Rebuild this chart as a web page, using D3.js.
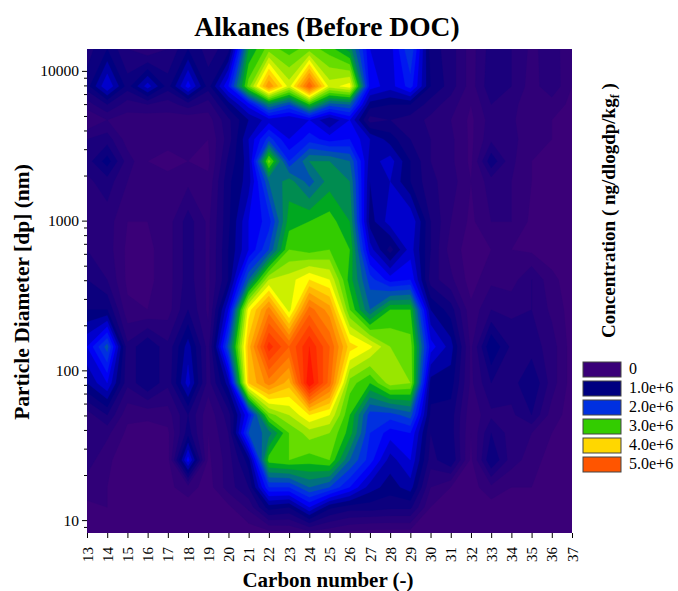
<!DOCTYPE html>
<html>
<head>
<meta charset="utf-8">
<script src="https://cdn.jsdelivr.net/npm/d3@7"></script>
<style>
  body { margin: 0; background: #fff; }
  text { font-family: "Liberation Serif", serif; fill: #000; }
</style>
</head>
<body>
<script>
const width = 678;
const height = 591;

// carbon numbers and particle size rows (nm), values in 1e6 ng/dlogdp/kgf
const carbons = d3.range(13, 38);
const diameters = [14000, 7900, 5970, 4700, 3500, 2490, 1825, 985, 640, 403, 254, 144, 82.3, 50.4, 38.2, 25.2, 16.6, 12.2, 8.2];
const conc = [
  [.7,1.0,.6,.4,.6,1.0,.7,.9,2.8,3.3,3.1,3.3,3.1,2.7,1.6,1.5,2.2,.9,.7,.3,.7,.6,.35,.5,.25],
  [.9,1.6,.9,1.5,.9,1.7,.9,1.8,3.3,4.6,3.7,5.0,3.7,3.9,1.7,1.5,1.9,1.0,.7,.3,.75,.6,.3,.55,.2],
  [.5,.8,.5,.6,.5,.7,.5,1.1,1.7,2.6,2.2,3.0,2.3,2.4,1.1,1.0,1.0,.7,.5,.2,.6,.5,.2,.3,.15],
  [.2,.4,.3,.25,.3,.25,.3,.75,1.2,1.5,1.4,1.6,1.2,1.6,.7,.8,.7,.55,.4,.15,.5,.45,.2,.2,.15],
  [.6,.7,.3,.2,.25,.2,.2,.7,1.4,2.1,1.6,1.9,1.7,1.8,1.4,1.1,.8,.6,.45,.15,.55,.5,.2,.2,.15],
  [.7,1.1,.5,.2,.15,.2,.15,.85,1.3,3.3,2.0,2.6,2.6,2.4,1.3,1.5,1.0,.6,.45,.15,.95,.45,.2,.15,.1],
  [.55,.7,.4,.2,.25,.35,.25,.95,1.3,2.4,2.7,2.3,2.7,2.6,1.2,1.4,1.0,.65,.5,.2,.5,.4,.2,.15,.1],
  [.55,.5,.2,.2,.3,.7,.35,.95,1.6,1.9,2.9,3.0,3.1,2.8,1.1,1.5,1.6,.8,.4,.15,.4,.4,.15,.1,.1],
  [.6,.5,.15,.15,.3,.7,.35,1.0,1.6,2.2,3.2,3.1,3.2,3.0,1.5,.9,1.5,.8,.3,.1,.2,.2,.15,.1,.1],
  [.8,.6,.15,.15,.3,.7,.35,1.0,2.4,3.6,3.7,4.0,3.8,2.9,2.1,1.7,1.8,.7,.45,.1,.35,.3,.6,.25,.1],
  [1.0,1.0,.25,.2,.3,.8,.35,1.6,3.9,4.7,3.7,4.9,4.5,3.2,2.4,3.0,3.0,1.2,.9,.25,.6,.55,.6,.35,.1],
  [1.6,2.3,.65,1.0,.65,1.3,.5,2.3,4.3,5.5,5.0,5.6,5.0,4.1,3.85,3.4,3.3,1.7,1.3,.35,1.2,.75,.7,.5,.1],
  [1.2,1.6,.65,1.0,.65,1.5,.5,1.3,4.2,4.7,4.3,5.8,4.9,3.3,3.0,3.5,3.4,1.1,1.1,.35,.8,.7,1.0,.5,.1],
  [.5,.8,.25,.25,.3,.8,.25,.7,1.8,3.3,3.6,4.0,3.8,3.0,2.1,2.1,2.3,.95,.9,.25,.55,.55,.8,.3,.1],
  [.5,.45,.15,.1,.15,.9,.2,.6,2.2,2.5,3.2,3.5,3.4,2.9,2.0,1.7,1.8,.8,.9,.2,.8,.5,.4,.2,.05],
  [.5,.25,.05,.05,.1,1.7,.15,.5,1.1,3.1,3.2,3.1,3.2,2.4,1.9,1.3,1.6,.7,1.0,.15,1.0,.5,.3,.1,.05],
  [.3,.2,.05,.05,.15,.3,.1,.5,.8,2.0,2.0,2.4,2.2,1.8,1.3,1.1,1.3,.4,.2,.1,.35,.2,.2,.1,.05],
  [.15,.2,.05,.05,.1,.1,.05,.15,.45,1.1,1.0,1.6,1.05,.9,.9,.85,.85,.2,.05,.05,.1,.1,.15,.1,.05],
  [0,0,0,0,0,0,0,0,.05,.1,.15,.3,.25,.15,.1,.1,.1,.05,0,0,0,0,0,0,0]
];

const yMajor = [10, 100, 1000, 10000];
const yMinor = [9, 20, 30, 40, 50, 60, 70, 80, 90, 200, 300, 400, 500, 600, 700, 800, 900, 2000, 3000, 4000, 5000, 6000, 7000, 8000, 9000];

const levelStops = [0, .2, .4, .6, .8, 1, 1.2, 1.4, 1.6, 1.8, 2, 2.2, 2.4, 2.6, 2.8, 3, 3.2, 3.4, 3.6, 3.8, 4, 4.2, 4.4, 4.6, 4.8, 5, 5.2, 5.4, 5.6, 5.8];
const levelColors = ["#3a0078", "#300078", "#26007a", "#1a007c", "#0c007e", "#000080", "#0000a4", "#0000cc", "#0000f4", "#0018f0", "#0030e0",
  "#0050b0", "#007080", "#008c50", "#00a820", "#33cc00", "#66dd00", "#99e600", "#ccf000", "#ffff00", "#ffd700", "#ffb800", "#ff9c00", "#ff8200", "#ff6a00", "#ff5500", "#ff4000", "#ff2c00", "#ff1600", "#ff0000"];

const legendValues = [0, 1, 2, 3, 4, 5];
const legendLabels = ["0", "1.0e+6", "2.0e+6", "3.0e+6", "4.0e+6", "5.0e+6"];

const margin = { left: 87, right: 572, top: 49, bottom: 533 };

const x = d3.scaleLinear().domain([13, 37]).range([margin.left, margin.right]);
const y = d3.scaleLog().domain([8.2, 14000]).range([margin.bottom, margin.top]);

// grid index -> screen position, cell centres sit at i + .5 in d3.contours
const xIdx = d3.scaleLinear().domain([0.5, carbons.length - 0.5]).range([x(carbons[0]), x(carbons[carbons.length - 1])]);
const yIdx = d3.scaleLinear().domain(diameters.map((d, i) => i + 0.5)).range(diameters.map(d => y(d)));

const svg = d3.select("body").append("svg")
  .attr("width", width)
  .attr("height", height)
  .style("display", "block");

svg.append("clipPath").attr("id", "plot-clip")
  .append("rect")
  .attr("x", margin.left).attr("y", margin.top)
  .attr("width", margin.right - margin.left).attr("height", margin.bottom - margin.top);

// Filled contours
const values = conc.flat();
const contours = d3.contours()
  .size([carbons.length, diameters.length])
  .thresholds(levelStops)(values);

const toScreen = d3.geoTransform({
  point(px, py) { this.stream.point(xIdx(px), yIdx(py)); }
});
const path = d3.geoPath(toScreen);

const plot = svg.append("g").attr("clip-path", "url(#plot-clip)");
plot.append("rect")
  .attr("x", margin.left).attr("y", margin.top)
  .attr("width", margin.right - margin.left).attr("height", margin.bottom - margin.top)
  .attr("fill", levelColors[0]);
plot.selectAll("path")
  .data(contours)
  .join("path")
    .attr("d", path)
    .attr("fill", (d, i) => levelColors[i])
    .attr("stroke", (d, i) => levelColors[i])
    .attr("stroke-width", 0.3);

// Axes
const xAxis = d3.axisBottom(x).tickValues(carbons).tickFormat(d3.format("d")).tickSize(5).tickPadding(3);
const gx = svg.append("g").attr("transform", `translate(0,${margin.bottom})`).call(xAxis);
gx.select(".domain").remove();
gx.selectAll("text")
  .attr("transform", "rotate(-90)")
  .attr("text-anchor", "end")
  .attr("x", -14).attr("y", 0).attr("dy", "0.34em")
  .style("font-size", "15px");

const gy = svg.append("g").attr("transform", `translate(${margin.left},0)`)
  .call(d3.axisLeft(y).tickValues(yMajor).tickFormat(d3.format("d")).tickSize(5).tickPadding(3));
gy.select(".domain").remove();
gy.selectAll("text").style("font-size", "15.5px");

const gyMinor = svg.append("g").attr("transform", `translate(${margin.left},0)`)
  .call(d3.axisLeft(y).tickValues(yMinor).tickFormat("").tickSize(3));
gyMinor.select(".domain").remove();

// Titles
svg.append("text")
  .attr("x", 327).attr("y", 36)
  .attr("text-anchor", "middle")
  .attr("font-weight", "bold")
  .style("font-size", "27.5px")
  .text("Alkanes (Before DOC)");

svg.append("text")
  .attr("x", 328).attr("y", 587)
  .attr("text-anchor", "middle")
  .attr("font-weight", "bold")
  .style("font-size", "21px")
  .text("Carbon number (-)");

svg.append("text")
  .attr("transform", "translate(29,292) rotate(-90)")
  .attr("text-anchor", "middle")
  .attr("font-weight", "bold")
  .style("font-size", "21.5px")
  .text("Particle Diameter [dp] (nm)");

const cTitle = svg.append("text")
  .attr("transform", "translate(615,338) rotate(-90)")
  .attr("font-weight", "bold")
  .style("font-size", "19px");
cTitle.append("tspan").text("Concentration ( ng/dlogdp/kg");
cTitle.append("tspan").attr("dy", 4).style("font-size", "12px").text("f");
cTitle.append("tspan").attr("dy", -4).text(" )");

// Legend
const legendColor = d3.scaleThreshold().domain(levelStops.slice(1)).range(levelColors);
const legend = svg.append("g");
const legendY = d3.scaleBand().domain(legendValues).range([362, 476]);
legend.selectAll("rect")
  .data(legendValues)
  .join("rect")
    .attr("x", 583).attr("y", d => legendY(d))
    .attr("width", 38).attr("height", 15)
    .attr("fill", d => legendColor(d))
    .attr("stroke", "#444").attr("stroke-width", 1);
legend.selectAll("text")
  .data(legendValues)
  .join("text")
    .attr("x", 629).attr("y", d => legendY(d) + 12)
    .style("font-size", "16px")
    .text((d, i) => legendLabels[i]);
</script>
</body>
</html>
